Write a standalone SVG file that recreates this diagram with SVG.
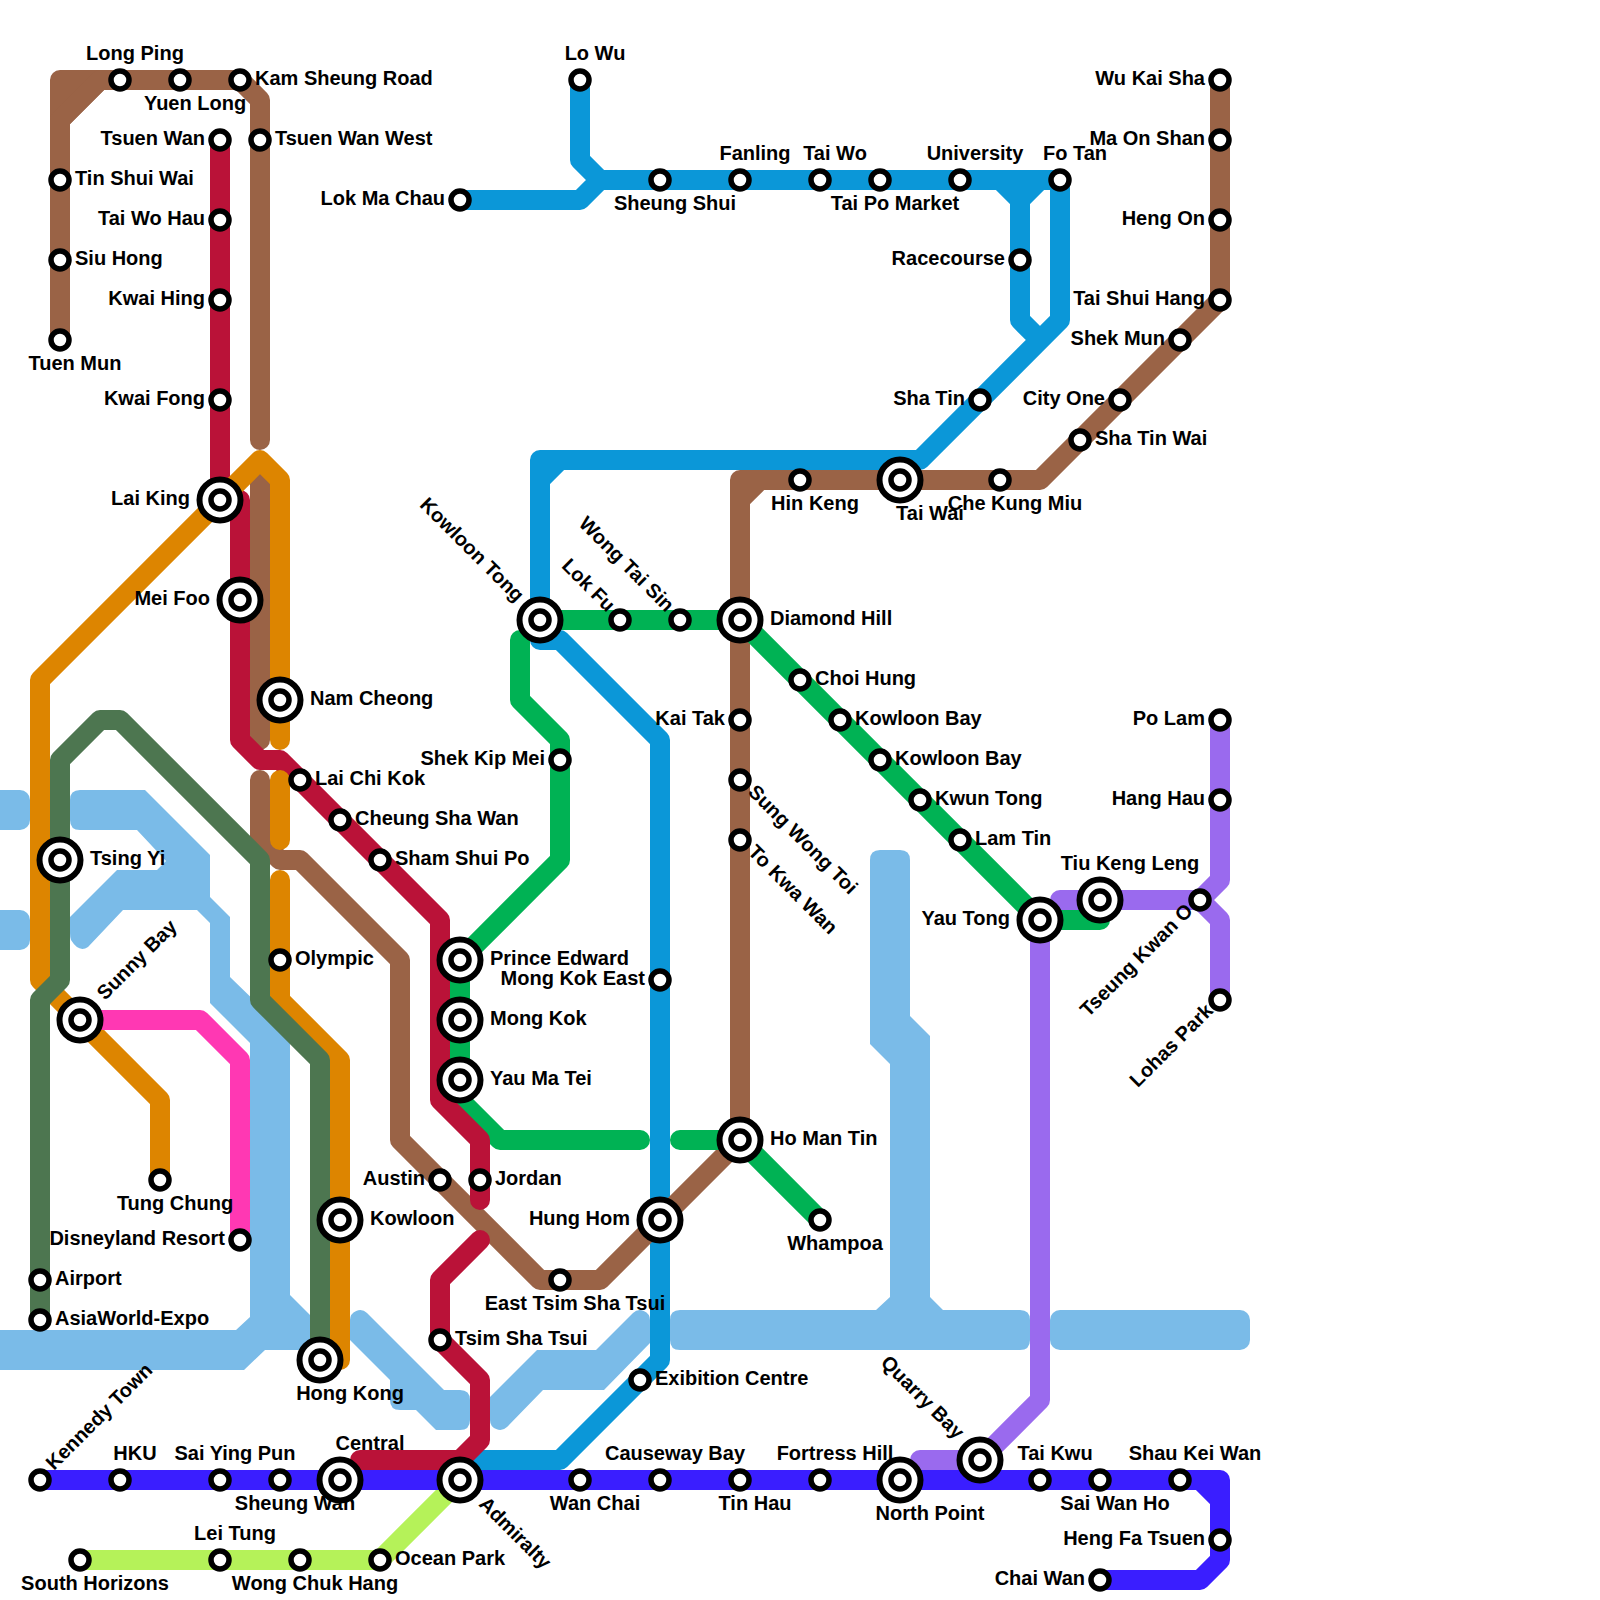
<svg xmlns="http://www.w3.org/2000/svg" width="1600" height="1600" viewBox="0 0 1600 1600">
<style>
.water{fill:#7abbe8;stroke:none}
.l{fill:none;stroke-width:20;stroke-linecap:round;stroke-linejoin:round}
.brown{stroke:#9a6346}.red{stroke:#ba1238}.orange{stroke:#dd8500}.dg{stroke:#4d7650}.blue{stroke:#0b97d8}.green{stroke:#00b254}.pink{stroke:#ff38b3}.purple{stroke:#9a6aee}.indigo{stroke:#3a1eff}.lime{stroke:#b5f259}
.o{fill:#fff;stroke:#000;stroke-width:5.5}
.p{fill:#fff;stroke:#000;stroke-width:6}
text{font-family:"Liberation Sans",Arial,sans-serif;font-weight:700;font-size:20px;fill:#000;text-rendering:optimizeSpeed}
.e{text-anchor:end}.m{text-anchor:middle}
</style>
<rect width="1600" height="1600" fill="#fff"/>
<g id="water">
<rect class="water" x="-20" y="790" width="50" height="40" rx="10"/>
<rect class="water" x="-20" y="910" width="50" height="40" rx="10"/>
<path class="water" d="M80,790H145L210,855V897L230,917V977L290,1035V1295L310,1315L330,1315V1350H265L244,1370H-20V1330H236L250,1317V1043L210,1003V923L197,910H123L88,947Q79,953 71,940Q70,938 70,933V917L117,870H157L166,861L137,830H80Q70,830 70,820V800Q70,790 80,790Z"/>
<path class="water" d="M350,1320A10,10 0 0 1 367,1313L444,1390H460Q470,1390 470,1400V1420Q470,1430 460,1430H436L416,1410H400Q390,1410 390,1400V1380L350,1340Z"/>
<path class="water" d="M490,1397L537,1350H596L633,1313A10,10 0 0 1 650,1320V1343L604,1390H543L507,1427A10,10 0 0 1 490,1420Z"/>
<path class="water" d="M680,1310H876L890,1297V1064L870,1044V860Q870,850 880,850H900Q910,850 910,860V1016L930,1036V1297L943,1310H1020Q1030,1310 1030,1320V1340Q1030,1350 1020,1350H680Q670,1350 670,1340V1320Q670,1310 680,1310Z"/>
<rect class="water" x="1050" y="1310" width="200" height="40" rx="10"/>
</g>
<g id="connectors">
<path class="l blue" d="M580,80V160L600,180M460,200H580L600,180H1060V320L920,460H560L540,480V640H560L660,740V1360L560,1460H470M1060,180H1000L1020,200V320L1040,340M1020,200L1040,180M920,460H540V480"/>
<path class="l brown" fill="#9a6346" style="fill:#9a6346" d="M60,120V80H100Z"/>
<path class="l brown" d="M60,340V120L100,80H240L260,100V440"/>
<path class="l brown" d="M260,480V740"/>
<path class="l brown" d="M260,780V840L280,860H300L400,960V1140L540,1280H600L740,1140V500L760,480H1040L1220,300V80M740,500V480H760"/>
<path class="l purple" d="M920,1460H980L1040,1400V920M1060,910V900H1200L1220,880V720M1200,900L1220,920V1000"/>
<path class="l green" d="M540,620H740L1040,920H1100M520,640V700L560,740V860L460,960V1100L500,1140H640M680,1140H740L820,1220"/>
<path class="l red" d="M220,140V500H240V740L260,760H280L440,920V1100L480,1140V1200M480,1240L440,1280V1340L480,1380V1440L460,1460H360"/>
<path class="l orange" d="M340,1360V1060L280,1000V880M280,780V840M280,740V480L260,460L40,680V980L160,1100V1180"/>
<path class="l dg" d="M320,1360V1060L260,1000V860L120,720H100L60,760V980L40,1000V1320"/>
<path class="l pink" d="M80,1020H200L240,1060V1240"/>
<path class="l lime" d="M460,1480L380,1560H80"/>
<path class="l indigo" d="M40,1480H1200L1220,1500V1560L1200,1580H1100M1200,1480H1220V1500"/>
</g>
<g id="tuen-mun"><text x="75" y="370" class="m">Tuen Mun</text><circle class="o" cx="60" cy="340" r="9"/></g>
<g id="siu-hong"><text x="75" y="265">Siu Hong</text><circle class="o" cx="60" cy="260" r="9"/></g>
<g id="tin-shui-wai"><text x="75" y="185">Tin Shui Wai</text><circle class="o" cx="60" cy="180" r="9"/></g>
<g id="long-ping"><text x="135" y="60" class="m">Long Ping</text><circle class="o" cx="120" cy="80" r="9"/></g>
<g id="yuen-long"><text x="195" y="110" class="m">Yuen Long</text><circle class="o" cx="180" cy="80" r="9"/></g>
<g id="kam-sheung-road"><text x="255" y="85">Kam Sheung Road</text><circle class="o" cx="240" cy="80" r="9"/></g>
<g id="tsuen-wan-west"><text x="275" y="145">Tsuen Wan West</text><circle class="o" cx="260" cy="140" r="9"/></g>
<g id="tsuen-wan"><text x="205" y="145" class="e">Tsuen Wan</text><circle class="o" cx="220" cy="140" r="9"/></g>
<g id="tai-wo-hau"><text x="205" y="225" class="e">Tai Wo Hau</text><circle class="o" cx="220" cy="220" r="9"/></g>
<g id="kwai-hing"><text x="205" y="305" class="e">Kwai Hing</text><circle class="o" cx="220" cy="300" r="9"/></g>
<g id="kwai-fong"><text x="205" y="405" class="e">Kwai Fong</text><circle class="o" cx="220" cy="400" r="9"/></g>
<g id="lai-king"><text x="190" y="505" class="e">Lai King</text><circle class="p" cx="220" cy="500" r="20.5"/><circle class="o" cx="220" cy="500" r="9"/></g>
<g id="mei-foo"><text x="210" y="605" class="e">Mei Foo</text><circle class="p" cx="240" cy="600" r="20.5"/><circle class="o" cx="240" cy="600" r="9"/></g>
<g id="nam-cheong"><text x="310" y="705">Nam Cheong</text><circle class="p" cx="280" cy="700" r="20.5"/><circle class="o" cx="280" cy="700" r="9"/></g>
<g id="lai-chi-kok"><text x="315" y="785">Lai Chi Kok</text><circle class="o" cx="300" cy="780" r="9"/></g>
<g id="cheung-sha-wan"><text x="355" y="825">Cheung Sha Wan</text><circle class="o" cx="340" cy="820" r="9"/></g>
<g id="sham-shui-po"><text x="395" y="865">Sham Shui Po</text><circle class="o" cx="380" cy="860" r="9"/></g>
<g id="prince-edward"><text x="490" y="965">Prince Edward</text><circle class="p" cx="460" cy="960" r="20.5"/><circle class="o" cx="460" cy="960" r="9"/></g>
<g id="mong-kok"><text x="490" y="1025">Mong Kok</text><circle class="p" cx="460" cy="1020" r="20.5"/><circle class="o" cx="460" cy="1020" r="9"/></g>
<g id="yau-ma-tei"><text x="490" y="1085">Yau Ma Tei</text><circle class="p" cx="460" cy="1080" r="20.5"/><circle class="o" cx="460" cy="1080" r="9"/></g>
<g id="jordan"><text x="495" y="1185">Jordan</text><circle class="o" cx="480" cy="1180" r="9"/></g>
<g id="austin"><text x="425" y="1185" class="e">Austin</text><circle class="o" cx="440" cy="1180" r="9"/></g>
<g id="kowloon"><text x="370" y="1225">Kowloon</text><circle class="p" cx="340" cy="1220" r="20.5"/><circle class="o" cx="340" cy="1220" r="9"/></g>
<g id="hong-kong"><text x="350" y="1400" class="m">Hong Kong</text><circle class="p" cx="320" cy="1360" r="20.5"/><circle class="o" cx="320" cy="1360" r="9"/></g>
<g id="olympic"><text x="295" y="965">Olympic</text><circle class="o" cx="280" cy="960" r="9"/></g>
<g id="tsing-yi"><text x="90" y="865">Tsing Yi</text><circle class="p" cx="60" cy="860" r="20.5"/><circle class="o" cx="60" cy="860" r="9"/></g>
<g id="sunny-bay"><text transform="translate(105,1001) rotate(-45)">Sunny Bay</text><circle class="p" cx="80" cy="1020" r="20.5"/><circle class="o" cx="80" cy="1020" r="9"/></g>
<g id="tung-chung"><text x="175" y="1210" class="m">Tung Chung</text><circle class="o" cx="160" cy="1180" r="9"/></g>
<g id="disneyland-resort"><text x="225" y="1245" class="e">Disneyland Resort</text><circle class="o" cx="240" cy="1240" r="9"/></g>
<g id="airport"><text x="55" y="1285">Airport</text><circle class="o" cx="40" cy="1280" r="9"/></g>
<g id="asiaworld-expo"><text x="55" y="1325">AsiaWorld-Expo</text><circle class="o" cx="40" cy="1320" r="9"/></g>
<g id="tsim-sha-tsui"><text x="455" y="1345">Tsim Sha Tsui</text><circle class="o" cx="440" cy="1340" r="9"/></g>
<g id="east-tsim-sha-tsui"><text x="575" y="1310" class="m">East Tsim Sha Tsui</text><circle class="o" cx="560" cy="1280" r="9"/></g>
<g id="hung-hom"><text x="630" y="1225" class="e">Hung Hom</text><circle class="p" cx="660" cy="1220" r="20.5"/><circle class="o" cx="660" cy="1220" r="9"/></g>
<g id="ho-man-tin"><text x="770" y="1145">Ho Man Tin</text><circle class="p" cx="740" cy="1140" r="20.5"/><circle class="o" cx="740" cy="1140" r="9"/></g>
<g id="whampoa"><text x="835" y="1250" class="m">Whampoa</text><circle class="o" cx="820" cy="1220" r="9"/></g>
<g id="exhibition-centre"><text x="655" y="1385">Exibition Centre</text><circle class="o" cx="640" cy="1380" r="9"/></g>
<g id="mong-kok-east"><text x="645" y="985" class="e">Mong Kok East</text><circle class="o" cx="660" cy="980" r="9"/></g>
<g id="kai-tak"><text x="725" y="725" class="e">Kai Tak</text><circle class="o" cx="740" cy="720" r="9"/></g>
<g id="sung-wong-toi"><text transform="translate(747,793) rotate(45)">Sung Wong Toi</text><circle class="o" cx="740" cy="780" r="9"/></g>
<g id="to-kwa-wan"><text transform="translate(747,853) rotate(45)">To Kwa Wan</text><circle class="o" cx="740" cy="840" r="9"/></g>
<g id="diamond-hill"><text x="770" y="625">Diamond Hill</text><circle class="p" cx="740" cy="620" r="20.5"/><circle class="o" cx="740" cy="620" r="9"/></g>
<g id="wong-tai-sin"><text transform="translate(666,613) rotate(45)" class="e">Wong Tai Sin</text><circle class="o" cx="680" cy="620" r="9"/></g>
<g id="lok-fu"><text transform="translate(607,613) rotate(45)" class="e">Lok Fu</text><circle class="o" cx="620" cy="620" r="9"/></g>
<g id="kowloon-tong"><text transform="translate(516,603) rotate(45)" class="e">Kowloon Tong</text><circle class="p" cx="540" cy="620" r="20.5"/><circle class="o" cx="540" cy="620" r="9"/></g>
<g id="shek-kip-mei"><text x="545" y="765" class="e">Shek Kip Mei</text><circle class="o" cx="560" cy="760" r="9"/></g>
<g id="hin-keng"><text x="815" y="510" class="m">Hin Keng</text><circle class="o" cx="800" cy="480" r="9"/></g>
<g id="tai-wai"><text x="930" y="520" class="m">Tai Wai</text><circle class="p" cx="900" cy="480" r="20.5"/><circle class="o" cx="900" cy="480" r="9"/></g>
<g id="che-kung-miu"><text x="1015" y="510" class="m">Che Kung Miu</text><circle class="o" cx="1000" cy="480" r="9"/></g>
<g id="sha-tin-wai"><text x="1095" y="445">Sha Tin Wai</text><circle class="o" cx="1080" cy="440" r="9"/></g>
<g id="city-one"><text x="1105" y="405" class="e">City One</text><circle class="o" cx="1120" cy="400" r="9"/></g>
<g id="shek-mun"><text x="1165" y="345" class="e">Shek Mun</text><circle class="o" cx="1180" cy="340" r="9"/></g>
<g id="tai-shui-hang"><text x="1205" y="305" class="e">Tai Shui Hang</text><circle class="o" cx="1220" cy="300" r="9"/></g>
<g id="heng-on"><text x="1205" y="225" class="e">Heng On</text><circle class="o" cx="1220" cy="220" r="9"/></g>
<g id="ma-on-shan"><text x="1205" y="145" class="e">Ma On Shan</text><circle class="o" cx="1220" cy="140" r="9"/></g>
<g id="wu-kai-sha"><text x="1205" y="85" class="e">Wu Kai Sha</text><circle class="o" cx="1220" cy="80" r="9"/></g>
<g id="lo-wu"><text x="595" y="60" class="m">Lo Wu</text><circle class="o" cx="580" cy="80" r="9"/></g>
<g id="lok-ma-chau"><text x="445" y="205" class="e">Lok Ma Chau</text><circle class="o" cx="460" cy="200" r="9"/></g>
<g id="sheung-shui"><text x="675" y="210" class="m">Sheung Shui</text><circle class="o" cx="660" cy="180" r="9"/></g>
<g id="fanling"><text x="755" y="160" class="m">Fanling</text><circle class="o" cx="740" cy="180" r="9"/></g>
<g id="tai-wo"><text x="835" y="160" class="m">Tai Wo</text><circle class="o" cx="820" cy="180" r="9"/></g>
<g id="tai-po-market"><text x="895" y="210" class="m">Tai Po Market</text><circle class="o" cx="880" cy="180" r="9"/></g>
<g id="university"><text x="975" y="160" class="m">University</text><circle class="o" cx="960" cy="180" r="9"/></g>
<g id="fo-tan"><text x="1075" y="160" class="m">Fo Tan</text><circle class="o" cx="1060" cy="180" r="9"/></g>
<g id="racecourse"><text x="1005" y="265" class="e">Racecourse</text><circle class="o" cx="1020" cy="260" r="9"/></g>
<g id="sha-tin"><text x="965" y="405" class="e">Sha Tin</text><circle class="o" cx="980" cy="400" r="9"/></g>
<g id="choi-hung"><text x="815" y="685">Choi Hung</text><circle class="o" cx="800" cy="680" r="9"/></g>
<g id="kowloon-bay-1"><text x="855" y="725">Kowloon Bay</text><circle class="o" cx="840" cy="720" r="9"/></g>
<g id="kowloon-bay-2"><text x="895" y="765">Kowloon Bay</text><circle class="o" cx="880" cy="760" r="9"/></g>
<g id="kwun-tong"><text x="935" y="805">Kwun Tong</text><circle class="o" cx="920" cy="800" r="9"/></g>
<g id="lam-tin"><text x="975" y="845">Lam Tin</text><circle class="o" cx="960" cy="840" r="9"/></g>
<g id="yau-tong"><text x="1010" y="925" class="e">Yau Tong</text><circle class="p" cx="1040" cy="920" r="20.5"/><circle class="o" cx="1040" cy="920" r="9"/></g>
<g id="tiu-keng-leng"><text x="1130" y="870" class="m">Tiu Keng Leng</text><circle class="p" cx="1100" cy="900" r="20.5"/><circle class="o" cx="1100" cy="900" r="9"/></g>
<g id="tseung-kwan-o"><text transform="translate(1194,912) rotate(-45)" class="e">Tseung Kwan O</text><circle class="o" cx="1200" cy="900" r="9"/></g>
<g id="po-lam"><text x="1205" y="725" class="e">Po Lam</text><circle class="o" cx="1220" cy="720" r="9"/></g>
<g id="hang-hau"><text x="1205" y="805" class="e">Hang Hau</text><circle class="o" cx="1220" cy="800" r="9"/></g>
<g id="lohas-park"><text transform="translate(1214,1012) rotate(-45)" class="e">Lohas Park</text><circle class="o" cx="1220" cy="1000" r="9"/></g>
<g id="kennedy-town"><text transform="translate(54,1471) rotate(-45)">Kennedy Town</text><circle class="o" cx="40" cy="1480" r="9"/></g>
<g id="hku"><text x="135" y="1460" class="m">HKU</text><circle class="o" cx="120" cy="1480" r="9"/></g>
<g id="sai-ying-pun"><text x="235" y="1460" class="m">Sai Ying Pun</text><circle class="o" cx="220" cy="1480" r="9"/></g>
<g id="sheung-wan"><text x="295" y="1510" class="m">Sheung Wan</text><circle class="o" cx="280" cy="1480" r="9"/></g>
<g id="central"><text x="370" y="1450" class="m">Central</text><circle class="p" cx="340" cy="1480" r="20.5"/><circle class="o" cx="340" cy="1480" r="9"/></g>
<g id="admiralty"><text transform="translate(478,1505) rotate(45)">Admiralty</text><circle class="p" cx="460" cy="1480" r="20.5"/><circle class="o" cx="460" cy="1480" r="9"/></g>
<g id="wan-chai"><text x="595" y="1510" class="m">Wan Chai</text><circle class="o" cx="580" cy="1480" r="9"/></g>
<g id="causeway-bay"><text x="675" y="1460" class="m">Causeway Bay</text><circle class="o" cx="660" cy="1480" r="9"/></g>
<g id="tin-hau"><text x="755" y="1510" class="m">Tin Hau</text><circle class="o" cx="740" cy="1480" r="9"/></g>
<g id="fortress-hill"><text x="835" y="1460" class="m">Fortress Hill</text><circle class="o" cx="820" cy="1480" r="9"/></g>
<g id="north-point"><text x="930" y="1520" class="m">North Point</text><circle class="p" cx="900" cy="1480" r="20.5"/><circle class="o" cx="900" cy="1480" r="9"/></g>
<g id="quarry-bay"><text transform="translate(956,1440) rotate(45)" class="e">Quarry Bay</text><circle class="p" cx="980" cy="1460" r="20.5"/><circle class="o" cx="980" cy="1460" r="9"/></g>
<g id="tai-kwu"><text x="1055" y="1460" class="m">Tai Kwu</text><circle class="o" cx="1040" cy="1480" r="9"/></g>
<g id="sai-wan-ho"><text x="1115" y="1510" class="m">Sai Wan Ho</text><circle class="o" cx="1100" cy="1480" r="9"/></g>
<g id="shau-kei-wan"><text x="1195" y="1460" class="m">Shau Kei Wan</text><circle class="o" cx="1180" cy="1480" r="9"/></g>
<g id="heng-fa-tsuen"><text x="1205" y="1545" class="e">Heng Fa Tsuen</text><circle class="o" cx="1220" cy="1540" r="9"/></g>
<g id="chai-wan"><text x="1085" y="1585" class="e">Chai Wan</text><circle class="o" cx="1100" cy="1580" r="9"/></g>
<g id="ocean-park"><text x="395" y="1565">Ocean Park</text><circle class="o" cx="380" cy="1560" r="9"/></g>
<g id="wong-chuk-hang"><text x="315" y="1590" class="m">Wong Chuk Hang</text><circle class="o" cx="300" cy="1560" r="9"/></g>
<g id="lei-tung"><text x="235" y="1540" class="m">Lei Tung</text><circle class="o" cx="220" cy="1560" r="9"/></g>
<g id="south-horizons"><text x="95" y="1590" class="m">South Horizons</text><circle class="o" cx="80" cy="1560" r="9"/></g>
</svg>
